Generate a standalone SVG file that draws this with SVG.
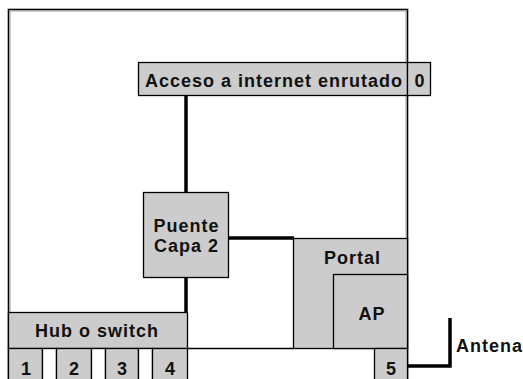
<svg xmlns="http://www.w3.org/2000/svg" width="523" height="379" viewBox="0 0 523 379">
  <style>
    .box { fill: #cccccc; stroke: #000; stroke-width: 1.3; }
    .gap { fill: #ffffff; stroke: #000; stroke-width: 1.3; }
    .lbl { font-family: "Liberation Sans", Arial, sans-serif; font-weight: bold; font-size: 18px; fill: #111; text-anchor: middle; letter-spacing: 1px; }
    .wire { fill: none; stroke: #000; stroke-width: 3.5; }
    .thin { fill: none; stroke: #000; stroke-width: 1.3; }
  </style>

  <!-- outer frame: dark edge with a grey inner rule -->
  <g id="frame">
    <rect x="8.5" y="9.5" width="399" height="390" fill="#fff" stroke="#000" stroke-width="1.6"/>
    <rect x="10" y="11" width="396" height="390" fill="none" stroke="#999" stroke-width="1"/>
  </g>

  <g id="connectors">
    <line class="wire" x1="186" y1="95" x2="186" y2="192"/>
    <line class="wire" x1="186" y1="277" x2="186" y2="312"/>
    <polyline class="wire" points="228,238 294,238"/>
    <line class="thin" x1="187" y1="348.5" x2="294" y2="348.5"/>
    <polyline class="wire" points="407,366 450,366 450,318"/>
  </g>

  <g id="acceso">
    <rect class="box" x="138.5" y="62.5" width="269" height="33"/>
    <text class="lbl" x="274" y="86.5">Acceso a internet enrutado</text>
  </g>

  <g id="port0">
    <rect class="box" x="407.5" y="62.5" width="23" height="33"/>
    <text class="lbl" x="420" y="86.5">0</text>
  </g>

  <g id="puente">
    <rect class="box" x="143.5" y="192.5" width="85" height="85"/>
    <text class="lbl" x="186.5" y="231.5">Puente</text>
    <text class="lbl" x="186.5" y="251.5">Capa 2</text>
  </g>

  <g id="portal">
    <rect class="box" x="293.5" y="238.5" width="114" height="110"/>
    <text class="lbl" x="352.5" y="263.5">Portal</text>
  </g>

  <g id="ap">
    <rect class="box" x="333.5" y="274.5" width="74" height="74"/>
    <text class="lbl" x="372" y="319.5">AP</text>
  </g>

  <g id="hub">
    <rect class="box" x="8.5" y="312.5" width="179" height="36"/>
    <text class="lbl" x="97" y="336.5">Hub o switch</text>
  </g>

  <g id="ports">
    <rect class="box" x="8.5" y="348.5" width="34" height="40"/>
    <rect class="gap" x="42.5" y="348.5" width="14" height="40"/>
    <rect class="box" x="56.5" y="348.5" width="35" height="40"/>
    <rect class="gap" x="91.5" y="348.5" width="14" height="40"/>
    <rect class="box" x="105.5" y="348.5" width="33" height="40"/>
    <rect class="gap" x="138.5" y="348.5" width="14" height="40"/>
    <rect class="box" x="152.5" y="348.5" width="35" height="40"/>
    <text class="lbl" x="26.5" y="374.5">1</text>
    <text class="lbl" x="74.5" y="374.5">2</text>
    <text class="lbl" x="122.5" y="374.5">3</text>
    <text class="lbl" x="170.5" y="374.5">4</text>
  </g>

  <g id="port5">
    <rect class="box" x="374.5" y="348.5" width="33" height="40"/>
    <text class="lbl" x="391.5" y="374.5">5</text>
  </g>

  <g id="antena">
    <text class="lbl" x="456" y="351.5" style="text-anchor:start">Antena</text>
  </g>
</svg>
